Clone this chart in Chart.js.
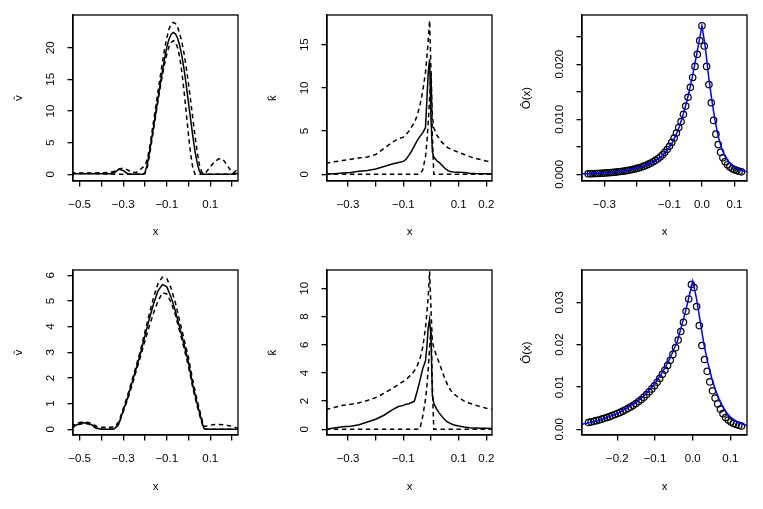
<!DOCTYPE html>
<html><head><meta charset="utf-8">
<script src="https://cdn.jsdelivr.net/npm/chart.js@4.4.1/dist/chart.umd.min.js"></script>
<style>
html,body{margin:0;padding:0;background:#fff;}
#wrap{position:relative;width:763px;height:509px;overflow:hidden;background:#fff;}
canvas{position:absolute;}
</style></head><body><div id="wrap">
<canvas id="c1" width="254" height="254" style="left:0px;top:0px"></canvas>
<canvas id="c2" width="254" height="254" style="left:254px;top:0px"></canvas>
<canvas id="c3" width="255" height="254" style="left:508px;top:0px"></canvas>
<canvas id="c4" width="254" height="255" style="left:0px;top:254px"></canvas>
<canvas id="c5" width="254" height="255" style="left:254px;top:254px"></canvas>
<canvas id="c6" width="255" height="255" style="left:508px;top:254px"></canvas>
</div>
<script>
// ---------- Panel 1 (top left): v-hat ----------
const p1X = [-0.54,-0.50,-0.45,-0.40,-0.36,-0.34,-0.32,-0.30,-0.28,-0.26,-0.24,-0.22,-0.21,-0.20,-0.19,-0.18,-0.17,-0.16,-0.15,-0.14,-0.13,-0.12,-0.11,-0.10,-0.09,-0.08,-0.07,-0.06,-0.05,-0.04,-0.03,-0.02,-0.01,0.00,0.01,0.02,0.03,0.04,0.05,0.06,0.07,0.08,0.10,0.12,0.14,0.15,0.16,0.18,0.20,0.21,0.23];
const p1Fit = [0.1,0.1,0.1,0.1,0.1,0.3,0.8,0.6,0.1,0,0,0,0,0.3,1.5,3.3,5.5,7.6,9.8,12.0,14.2,16.3,18.2,20.0,21.3,22.1,22.4,22.2,21.5,20.3,18.6,16.5,14.0,11.3,8.6,6.0,3.6,1.8,0.5,0,0,0,0,0,0,0,0,0,0.05,0.1,0.15];
const p1Upper = [0.2,0.2,0.2,0.25,0.3,0.5,0.85,1.0,0.7,0.3,0.3,0.8,1.1,1.4,2.3,4.0,6.2,8.5,10.8,13.1,15.4,17.6,19.7,21.5,22.9,23.7,24.0,23.8,23.2,22.2,20.8,19.0,16.8,14.3,11.6,8.8,6.0,3.5,1.5,0.4,0.1,0.3,1.2,2.0,2.45,2.5,2.3,1.3,0.3,0.3,1.0];
const p1Lower = [0.15,0.15,0.15,0.1,0.05,0,0,0,0,0,0,0,0,0.1,1.0,2.8,5.0,7.2,9.4,11.6,13.7,15.6,17.4,18.9,20.1,20.8,21.1,20.9,20.0,18.4,16.0,13.0,9.6,6.2,3.2,1.0,0,0,0,0,0,0,0,0,0,0,0,0,0,0,0];

// ---------- Panel 4 (bottom left): v-hat ----------
const p4X = [-0.54,-0.52,-0.50,-0.48,-0.46,-0.44,-0.42,-0.40,-0.38,-0.36,-0.34,-0.32,-0.30,-0.28,-0.26,-0.24,-0.22,-0.20,-0.18,-0.16,-0.14,-0.12,-0.10,-0.08,-0.06,-0.04,-0.02,0.00,0.02,0.04,0.06,0.07,0.08,0.10,0.12,0.14,0.16,0.18,0.20,0.22,0.24];
const p4Fit = [0.08,0.15,0.23,0.26,0.24,0.15,0.04,0,0,0,0.02,0.22,0.72,1.22,1.8,2.38,2.98,3.65,4.3,4.9,5.4,5.64,5.56,5.15,4.6,3.95,3.3,2.6,1.7,1.0,0.35,0.05,0,0,0,0,0,0,0,0,0];
const p4Upper = [0.12,0.2,0.27,0.29,0.27,0.2,0.1,0.08,0.08,0.08,0.1,0.3,0.8,1.32,1.9,2.48,3.1,3.8,4.5,5.15,5.68,5.93,5.88,5.5,4.92,4.2,3.5,2.78,1.9,1.12,0.45,0.12,0.12,0.16,0.19,0.19,0.18,0.15,0.12,0.06,0.02];
const p4Lower = [0.05,0.12,0.2,0.23,0.21,0.12,0.02,0,0,0,0,0.2,0.68,1.15,1.7,2.28,2.85,3.45,4.02,4.55,5.0,5.32,5.28,4.95,4.45,3.8,3.15,2.45,1.6,0.9,0.28,0.02,0,0,0,0,0,0,0,0,0];

// ---------- Panels 2 and 5 (middle): k-hat ----------
const kX = [-0.38,-0.35,-0.32,-0.29,-0.26,-0.23,-0.20,-0.17,-0.14,-0.12,-0.10,-0.09,-0.08,-0.07,-0.06,-0.05,-0.04,-0.03,-0.02,-0.015,-0.01,-0.005,0.0,0.005,0.01,0.015,0.02,0.03,0.04,0.05,0.06,0.07,0.08,0.10,0.12,0.14,0.16,0.18,0.20,0.22];
const p2Fit = [0.03,0.08,0.15,0.22,0.35,0.45,0.62,0.9,1.2,1.35,1.5,1.75,2.2,2.7,3.3,3.9,4.4,4.8,5.4,8.5,11.8,13.3,6.5,2.6,2.0,1.8,1.6,1.35,1.05,0.7,0.45,0.32,0.28,0.24,0.2,0.14,0.1,0.08,0.06,0.05];
const p2Upper = [1.3,1.45,1.6,1.75,1.9,2.0,2.3,3.0,3.7,4.1,4.3,4.6,5.0,5.5,6.0,6.8,8.0,9.6,11.8,13.5,15.5,17.8,12.0,6.8,5.4,5.0,4.6,4.1,3.7,3.4,3.1,2.95,2.8,2.55,2.3,2.05,1.85,1.7,1.55,1.45];
const p2Lower = [0,0,0,0,0,0,0,0,0,0,0,0,0,0,0,0,0.05,0.5,2.0,3.6,6.0,8.8,11.8,4.5,0,0,0,0,0,0,0,0,0,0,0,0,0,0,0,0];
const p5Fit = [0.02,0.1,0.18,0.22,0.32,0.52,0.72,1.0,1.38,1.6,1.7,1.78,1.82,1.9,2.0,2.7,3.45,4.3,4.85,5.8,7.2,7.8,6.5,2.4,1.85,1.65,1.45,1.15,0.9,0.68,0.52,0.42,0.33,0.24,0.17,0.12,0.1,0.08,0.07,0.06];
const p5Upper = [1.4,1.55,1.7,1.78,1.88,2.05,2.25,2.55,2.9,3.15,3.4,3.55,3.72,3.9,4.15,4.5,5.0,5.8,7.2,8.2,9.4,11.2,8.5,6.2,5.8,5.5,5.2,4.7,4.15,3.6,3.15,2.8,2.55,2.25,2.0,1.85,1.72,1.6,1.5,1.42];
const p5Lower = [0,0,0,0,0,0,0,0,0,0,0,0,0,0,0,0,0.05,0.9,2.1,3.0,4.3,5.8,7.2,3.0,0,0,0,0,0,0,0,0,0,0,0,0,0,0,0,0];

// ---------- Panel 3 (top right): O-hat(x) ----------
const p3PtX = [-0.3500,-0.3429,-0.3357,-0.3286,-0.3214,-0.3143,-0.3071,-0.3000,-0.2929,-0.2857,-0.2786,-0.2714,-0.2643,-0.2571,-0.2500,-0.2429,-0.2357,-0.2286,-0.2214,-0.2143,-0.2071,-0.2000,-0.1929,-0.1857,-0.1786,-0.1714,-0.1643,-0.1571,-0.1500,-0.1429,-0.1357,-0.1286,-0.1214,-0.1143,-0.1071,-0.1000,-0.0929,-0.0857,-0.0786,-0.0714,-0.0643,-0.0571,-0.0500,-0.0429,-0.0357,-0.0286,-0.0214,-0.0143,-0.0071,0.0000,0.0071,0.0143,0.0214,0.0286,0.0357,0.0429,0.0500,0.0571,0.0643,0.0714,0.0786,0.0857,0.0929,0.1000,0.1071,0.1143,0.1214];
const p3PtY = [0.00010,0.00011,0.00012,0.00014,0.00016,0.00018,0.00021,0.00024,0.00027,0.00030,0.00033,0.00037,0.00041,0.00046,0.00051,0.00057,0.00063,0.00070,0.00078,0.00087,0.00097,0.00108,0.00120,0.00134,0.00149,0.00166,0.00185,0.00206,0.00229,0.00255,0.00284,0.00316,0.00355,0.00400,0.00450,0.00510,0.00580,0.00660,0.00750,0.00850,0.00960,0.01090,0.01240,0.01400,0.01580,0.01760,0.01960,0.02180,0.02430,0.02700,0.02330,0.01960,0.01630,0.01300,0.00980,0.00730,0.00540,0.00400,0.00300,0.00230,0.00175,0.00135,0.00105,0.00085,0.00070,0.00055,0.00045];
const p3LineX = [-0.38,-0.35,-0.30,-0.25,-0.20,-0.175,-0.15,-0.125,-0.10,-0.09,-0.08,-0.07,-0.06,-0.05,-0.04,-0.03,-0.02,-0.01,0.0,0.01,0.02,0.03,0.04,0.05,0.06,0.07,0.08,0.09,0.10,0.12,0.14];
const p3LineY = [0.00007,0.00011,0.00025,0.00052,0.00110,0.00155,0.00220,0.00320,0.00490,0.00590,0.00710,0.00860,0.01040,0.01250,0.01490,0.01760,0.02060,0.02380,0.02700,0.02320,0.01800,0.01360,0.00980,0.00690,0.00480,0.00340,0.00240,0.00175,0.00130,0.00075,0.00045];

// ---------- Panel 6 (bottom right): O-hat(x) ----------
const p6PtX = [-0.2765,-0.2695,-0.2625,-0.2555,-0.2485,-0.2415,-0.2345,-0.2275,-0.2205,-0.2135,-0.2065,-0.1995,-0.1925,-0.1855,-0.1785,-0.1715,-0.1645,-0.1575,-0.1505,-0.1435,-0.1365,-0.1295,-0.1225,-0.1155,-0.1085,-0.1015,-0.0945,-0.0875,-0.0805,-0.0735,-0.0665,-0.0595,-0.0525,-0.0455,-0.0385,-0.0315,-0.0245,-0.0175,-0.0105,-0.0035,0.0035,0.0105,0.0175,0.0245,0.0315,0.0385,0.0455,0.0525,0.0595,0.0665,0.0735,0.0805,0.0875,0.0945,0.1015,0.1085,0.1155,0.1225,0.1295];
const p6PtY = [0.00160,0.00175,0.00190,0.00205,0.00220,0.00240,0.00260,0.00280,0.00300,0.00325,0.00350,0.00375,0.00400,0.00430,0.00460,0.00495,0.00530,0.00570,0.00610,0.00655,0.00705,0.00760,0.00820,0.00885,0.00955,0.01030,0.01110,0.01200,0.01300,0.01400,0.01510,0.01630,0.01770,0.01930,0.02110,0.02310,0.02530,0.02790,0.03080,0.03420,0.03350,0.02900,0.02450,0.01980,0.01650,0.01370,0.01120,0.00910,0.00740,0.00600,0.00480,0.00370,0.00280,0.00220,0.00175,0.00140,0.00115,0.00095,0.00080];
const p6LineX = [-0.30,-0.25,-0.20,-0.15,-0.125,-0.10,-0.08,-0.06,-0.04,-0.02,-0.01,0.0,0.01,0.02,0.03,0.04,0.05,0.06,0.07,0.08,0.09,0.10,0.12,0.15];
const p6LineY = [0.00110,0.00205,0.00370,0.00630,0.00830,0.01090,0.01350,0.01680,0.02100,0.02750,0.03120,0.03500,0.03100,0.02550,0.02000,0.01580,0.01230,0.00940,0.00720,0.00540,0.00390,0.00290,0.00160,0.00070];

// ---------- Tick values and labels ----------
const vTicksX = [-0.5,-0.4,-0.3,-0.2,-0.1,0.0,0.1,0.2];
const vTickLabelsX = ['\u22120.5','','\u22120.3','','\u22120.1','','0.1',''];
const kTicksX = [-0.3,-0.2,-0.1,0.0,0.1,0.2];
const kTickLabelsX = ['\u22120.3','','\u22120.1','','0.1','0.2'];
const p3TicksX = [-0.3,-0.2,-0.1,0.0,0.1];
const p3TickLabelsX = ['\u22120.3','','\u22120.1','0.0','0.1'];
const p6TicksX = [-0.2,-0.1,0.0,0.1];
const p6TickLabelsX = ['\u22120.2','\u22120.1','0.0','0.1'];
const p1TicksY = [0,5,10,15,20];
const p1TickLabelsY = ['0','5','10','15','20'];
const p2TicksY = [0,5,10,15];
const p2TickLabelsY = ['0','5','10','15'];
const p3TicksY = [0,0.005,0.010,0.015,0.020,0.025];
const p3TickLabelsY = ['0.000','','0.010','','0.020',''];
const p4TicksY = [0,1,2,3,4,5,6];
const p4TickLabelsY = ['0','1','2','3','4','5','6'];
const p5TicksY = [0,2,4,6,8,10];
const p5TickLabelsY = ['0','2','4','6','8','10'];
const p6TicksY = [0,0.01,0.02,0.03];
const p6TickLabelsY = ['0.00','0.01','0.02','0.03'];

// ---------- drawing ----------
const FONT = '"Liberation Sans", Arial, Helvetica, sans-serif';
const FS = 11.5;
const zip = (xs, ys) => xs.map((x, i) => ({x: x, y: ys[i]}));

const rPlugin = {
  id: 'rbox',
  afterDraw(chart, args, opts) {
    const ctx = chart.ctx, a = chart.chartArea;
    ctx.save();
    ctx.strokeStyle = '#000'; ctx.lineWidth = 1.3;
    ctx.strokeRect(a.left, a.top, a.right - a.left, a.bottom - a.top);
    const ys = chart.scales.y;
    ctx.fillStyle = '#000';
    ctx.font = FS + 'px ' + FONT;
    ctx.textAlign = 'center'; ctx.textBaseline = 'middle';
    ys.ticks.forEach((t, i) => {
      const lab = opts.yLabels[i];
      if (!lab) return;
      const py = ys.getPixelForValue(t.value);
      ctx.save();
      ctx.translate(a.left - 22.5, py);
      ctx.rotate(-Math.PI / 2);
      ctx.fillText(lab, 0, 0);
      ctx.restore();
    });
    ctx.restore();
  }
};

function lineSet(data, dashed) {
  return { data: data, borderColor: '#000', borderWidth: 1.5, borderDash: dashed ? [4.5, 3.5] : [],
           pointRadius: 0, fill: false, tension: 0, order: 1 };
}
function blueSet(data) {
  return { data: data, borderColor: '#0000ff', borderWidth: 1.5, pointRadius: 0, fill: false, tension: 0, order: 0 };
}
function circleSet(data) {
  return { data: data, showLine: false, pointRadius: 3.2, pointStyle: 'circle', pointBorderColor: '#000',
           pointBackgroundColor: 'rgba(0,0,0,0)', pointBorderWidth: 1.2, order: 2 };
}

function panel(id, box, cfg) {
  const cv = document.getElementById(id);
  const W = cv.width, H = cv.height;
  const gridOpt = { display: true, drawOnChartArea: false, drawTicks: true, tickLength: 5.5, color: '#000', lineWidth: 1.3 };
  new Chart(cv, {
    type: 'line',
    data: { datasets: cfg.datasets },
    options: {
      responsive: false, animation: false, devicePixelRatio: 1,
      layout: { padding: { left: 0, top: box.T, right: W - box.R, bottom: 0 } },
      plugins: { legend: { display: false }, tooltip: { enabled: false }, rbox: { yLabels: cfg.yLabels } },
      scales: {
        x: {
          type: 'linear', position: 'bottom', min: cfg.xMin, max: cfg.xMax,
          afterBuildTicks: s => { s.ticks = cfg.xTicks.map(v => ({ value: v })); },
          afterFit: s => { s.height = H - box.B; },
          ticks: { autoSkip: false, maxRotation: 0, minRotation: 0, padding: 11, color: '#000',
                   font: { family: FONT, size: FS }, callback: (v, i) => cfg.xLabels[i] },
          grid: gridOpt,
          border: { display: true, color: '#000', width: 1.3 },
          title: { display: true, text: 'x', color: '#000', font: { family: FONT, size: FS }, padding: { top: 0, bottom: 15 } }
        },
        y: {
          type: 'linear', position: 'left', min: cfg.yMin, max: cfg.yMax,
          afterBuildTicks: s => { s.ticks = cfg.yTicks.map(v => ({ value: v })); },
          afterFit: s => { s.width = box.L; },
          ticks: { display: false },
          grid: gridOpt,
          border: { display: true, color: '#000', width: 1.3 },
          title: { display: true, text: cfg.yTitle, color: '#000', font: { family: FONT, size: FS }, padding: { top: 12, bottom: 0 } }
        }
      }
    },
    plugins: [rPlugin]
  });
}

const colBox = [{ L: 73, R: 238 }, { L: 73, R: 238 }, { L: 74, R: 239 }];
const rowBox = [{ T: 15, B: 181 }, { T: 16, B: 181 }];
const bx = (c, r) => ({ L: colBox[c].L, R: colBox[c].R, T: rowBox[r].T, B: rowBox[r].B });

panel('c1', bx(0, 0), {
  xMin: -0.5306, xMax: 0.2274, yMin: -1.05, yMax: 25.16,
  xTicks: vTicksX, xLabels: vTickLabelsX, yTicks: p1TicksY, yLabels: p1TickLabelsY, yTitle: 'v\u0302',
  datasets: [lineSet(zip(p1X, p1Fit), false), lineSet(zip(p1X, p1Upper), true), lineSet(zip(p1X, p1Lower), true)]
});
panel('c2', bx(1, 0), {
  xMin: -0.3759, xMax: 0.2205, yMin: -0.77, yMax: 18.44,
  xTicks: kTicksX, xLabels: kTickLabelsX, yTicks: p2TicksY, yLabels: p2TickLabelsY, yTitle: 'k\u0302',
  datasets: [lineSet(zip(kX, p2Fit), false), lineSet(zip(kX, p2Upper), true), lineSet(zip(kX, p2Lower), true)]
});
panel('c3', bx(2, 0), {
  xMin: -0.369, xMax: 0.1385, yMin: -0.00121, yMax: 0.02894,
  xTicks: p3TicksX, xLabels: p3TickLabelsX, yTicks: p3TicksY, yLabels: p3TickLabelsY, yTitle: '\u00d4(x)',
  datasets: [circleSet(zip(p3PtX, p3PtY)), blueSet(zip(p3LineX, p3LineY))]
});
panel('c4', bx(0, 1), {
  xMin: -0.5306, xMax: 0.2274, yMin: -0.221, yMax: 6.208,
  xTicks: vTicksX, xLabels: vTickLabelsX, yTicks: p4TicksY, yLabels: p4TickLabelsY, yTitle: 'v\u0302',
  datasets: [lineSet(zip(p4X, p4Fit), false), lineSet(zip(p4X, p4Upper), true), lineSet(zip(p4X, p4Lower), true)]
});
panel('c5', bx(1, 1), {
  xMin: -0.3759, xMax: 0.2205, yMin: -0.402, yMax: 11.30,
  xTicks: kTicksX, xLabels: kTickLabelsX, yTicks: p5TicksY, yLabels: p5TickLabelsY, yTitle: 'k\u0302',
  datasets: [lineSet(zip(kX, p5Fit), false), lineSet(zip(kX, p5Upper), true), lineSet(zip(kX, p5Lower), true)]
});
panel('c6', bx(2, 1), {
  xMin: -0.2938, xMax: 0.1442, yMin: -0.00134, yMax: 0.03764,
  xTicks: p6TicksX, xLabels: p6TickLabelsX, yTicks: p6TicksY, yLabels: p6TickLabelsY, yTitle: '\u00d4(x)',
  datasets: [circleSet(zip(p6PtX, p6PtY)), blueSet(zip(p6LineX, p6LineY))]
});
</script>
</body></html>
